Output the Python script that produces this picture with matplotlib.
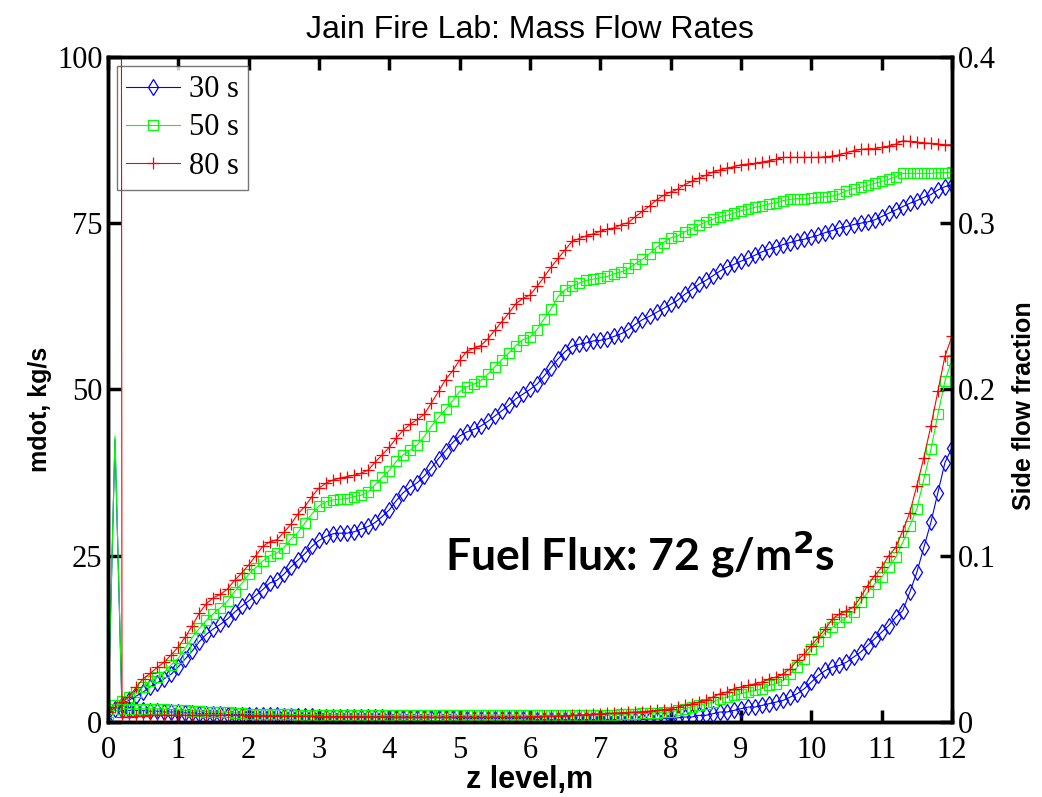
import numpy as np
import matplotlib
matplotlib.use('Agg')
import matplotlib.pyplot as plt

# height levels, m
z = np.round(np.arange(0, 121) * 0.1, 1)

# mass flow, kg/s
mdot_30 = [
    1.5, 2.0, 2.6, 3.3, 3.9, 4.5, 5.3, 5.9, 6.5, 7.2,
    8.3, 9.5, 10.7, 12.1, 13.2, 14.0, 14.7, 15.5, 16.5, 17.4,
    18.2, 19.0, 19.9, 20.9, 21.3, 22.2, 23.3, 24.3, 25.3, 26.4,
    27.3, 27.9, 28.3, 28.4, 28.4, 28.6, 29.0, 29.4, 30.0, 30.9,
    31.9, 33.3, 34.5, 35.3, 36.0, 37.0, 38.2, 39.6, 40.8, 42.0,
    43.0, 43.6, 44.0, 44.5, 45.2, 46.0, 46.8, 47.6, 48.6, 49.3,
    50.0, 50.8, 52.0, 53.3, 54.6, 55.7, 56.5, 56.8, 57.0, 57.3,
    57.4, 57.6, 58.0, 58.4, 59.0, 59.8, 60.5, 61.0, 61.6, 62.2,
    62.8, 63.4, 64.3, 65.0, 65.8, 66.4, 67.1, 67.8, 68.4, 68.8,
    69.3, 69.7, 70.2, 70.7, 71.1, 71.4, 71.8, 72.1, 72.4, 72.6,
    72.9, 73.2, 73.6, 73.9, 74.3, 74.5, 74.8, 75.0, 75.2, 75.5,
    76.0, 76.5, 77.0, 77.5, 78.0, 78.4, 78.9, 79.3, 80.0, 80.5,
    80.8]
mdot_50 = [
    2.0, 2.5, 3.1, 3.7, 4.5, 5.3, 6.1, 6.7, 7.5, 8.6,
    9.6, 11.1, 12.7, 14.1, 15.3, 16.3, 17.2, 18.2, 19.6, 20.8,
    22.2, 23.2, 24.2, 25.0, 25.4, 26.2, 27.5, 28.5, 29.9, 31.3,
    32.5, 33.1, 33.4, 33.5, 33.6, 33.9, 34.1, 34.6, 35.7, 36.8,
    37.8, 39.2, 40.2, 40.9, 41.7, 43.0, 44.5, 45.8, 47.0, 48.3,
    49.7, 50.4, 50.8, 51.3, 52.3, 53.4, 54.5, 55.5, 56.6, 57.5,
    57.9, 59.0, 60.6, 62.1, 64.0, 65.0, 65.6, 66.0, 66.4, 66.6,
    66.8, 67.0, 67.4, 67.7, 68.2, 68.9, 69.6, 70.4, 71.4, 72.1,
    72.8, 73.1, 73.7, 74.2, 74.7, 75.2, 75.6, 76.0, 76.2, 76.5,
    76.9, 77.1, 77.4, 77.6, 77.9, 78.1, 78.4, 78.6, 78.7, 78.7,
    78.8, 78.9, 79.0, 79.1, 79.4, 79.9, 80.2, 80.4, 80.7, 81.0,
    81.3, 81.6, 82.0, 82.5, 82.5, 82.5, 82.5, 82.5, 82.6, 82.6,
    82.7]
mdot_80 = [
    1.5, 2.2, 3.0, 3.8, 5.2, 6.5, 7.3, 8.2, 9.0, 10.1,
    11.3, 12.8, 14.5, 16.4, 17.8, 18.7, 19.2, 20.0, 21.3, 22.4,
    23.6, 25.0, 26.4, 27.1, 27.4, 28.5, 29.7, 31.3, 32.4, 33.9,
    35.2, 35.9, 36.4, 36.7, 36.9, 37.1, 37.4, 37.9, 39.1, 40.2,
    41.3, 42.7, 43.9, 44.8, 45.5, 46.3, 48.0, 49.7, 51.5, 52.8,
    54.4, 55.7, 56.2, 56.6, 57.6, 58.9, 60.2, 61.5, 62.9, 63.7,
    64.2, 65.5, 66.9, 68.4, 69.7, 71.0, 72.3, 72.7, 73.1, 73.4,
    73.8, 74.1, 74.3, 74.8, 75.1, 76.0, 76.8, 77.6, 78.5, 79.2,
    79.7, 80.1, 80.8, 81.3, 81.8, 82.2, 82.7, 83.0, 83.3, 83.5,
    83.8, 83.9, 84.0, 84.2, 84.4, 84.6, 84.9, 84.9, 84.9, 84.9,
    84.9, 84.9, 85.0, 85.1, 85.3, 85.6, 85.9, 86.1, 86.2, 86.2,
    86.4, 86.6, 86.9, 87.4, 87.3, 87.2, 87.1, 87.0, 86.9, 86.8,
    86.8]

# side flow fraction (right axis)
side_30 = [
    0.0, 0.170, 0.007, 0.007, 0.007, 0.007, 0.0065, 0.0065, 0.006, 0.006,
    0.006, 0.0055, 0.0055, 0.005, 0.005, 0.005, 0.005, 0.0045, 0.0045, 0.0045,
    0.004, 0.004, 0.004, 0.004, 0.004, 0.0035, 0.0035, 0.0035, 0.0035, 0.0035,
    0.003, 0.003, 0.003, 0.003, 0.003, 0.003, 0.003, 0.003, 0.003, 0.003,
    0.0025, 0.0025, 0.0025, 0.0025, 0.0025, 0.0025, 0.0025, 0.0025, 0.0025, 0.0025,
    0.002, 0.002, 0.002, 0.002, 0.002, 0.002, 0.002, 0.002, 0.002, 0.002,
    0.0015, 0.0015, 0.0015, 0.0015, 0.0015, 0.0015, 0.0015, 0.0015, 0.0015, 0.0015,
    0.0015, 0.0015, 0.0015, 0.0015, 0.0015, 0.0015, 0.0015, 0.0018, 0.0018, 0.002,
    0.002, 0.0025, 0.003, 0.003, 0.004, 0.004, 0.005, 0.006, 0.006, 0.007,
    0.008, 0.009, 0.009, 0.010, 0.011, 0.012, 0.013, 0.015, 0.017, 0.020,
    0.024, 0.028, 0.031, 0.033, 0.034, 0.036, 0.039, 0.042, 0.046, 0.050,
    0.054, 0.058, 0.063, 0.067, 0.078, 0.090, 0.105, 0.120, 0.138, 0.156,
    0.165]
side_50 = [
    0.0, 0.172, 0.008, 0.008, 0.008, 0.008, 0.008, 0.008, 0.0078, 0.0075,
    0.0072, 0.007, 0.0068, 0.0065, 0.0063, 0.006, 0.006, 0.0058, 0.0055, 0.0053,
    0.005, 0.005, 0.005, 0.0048, 0.0048, 0.0047, 0.0046, 0.0045, 0.0045, 0.0044,
    0.0043, 0.0043, 0.0042, 0.0042, 0.0042, 0.0041, 0.0041, 0.0041, 0.004, 0.004,
    0.004, 0.004, 0.004, 0.004, 0.004, 0.004, 0.004, 0.004, 0.004, 0.004,
    0.004, 0.004, 0.004, 0.004, 0.004, 0.004, 0.004, 0.004, 0.004, 0.004,
    0.004, 0.004, 0.004, 0.004, 0.004, 0.004, 0.004, 0.004, 0.004, 0.0042,
    0.0043, 0.0044, 0.0045, 0.0046, 0.0048, 0.005, 0.0052, 0.0054, 0.0056, 0.0058,
    0.006, 0.007, 0.008, 0.009, 0.010, 0.011, 0.012, 0.014, 0.015, 0.016,
    0.017, 0.018, 0.019, 0.020, 0.022, 0.023, 0.025, 0.029, 0.033, 0.038,
    0.044, 0.049, 0.054, 0.057, 0.060, 0.063, 0.066, 0.072, 0.078, 0.083,
    0.087, 0.093, 0.099, 0.108, 0.118, 0.128, 0.146, 0.164, 0.185, 0.205,
    0.218]
side_80 = [
    0.0, 5.0, 0.003, 0.003, 0.0035, 0.0035, 0.004, 0.004, 0.004, 0.004,
    0.004, 0.004, 0.004, 0.004, 0.004, 0.004, 0.004, 0.004, 0.004, 0.004,
    0.0038, 0.0038, 0.0036, 0.0036, 0.0035, 0.0035, 0.0035, 0.0035, 0.0034, 0.0034,
    0.0033, 0.0033, 0.0033, 0.0033, 0.0032, 0.0032, 0.0032, 0.0032, 0.0031, 0.0031,
    0.003, 0.003, 0.003, 0.003, 0.003, 0.003, 0.003, 0.003, 0.003, 0.003,
    0.003, 0.003, 0.003, 0.003, 0.003, 0.003, 0.003, 0.003, 0.003, 0.003,
    0.0032, 0.0033, 0.0034, 0.0035, 0.0036, 0.0038, 0.004, 0.0042, 0.0045, 0.0048,
    0.005, 0.0052, 0.0054, 0.0056, 0.0058, 0.006, 0.0063, 0.0066, 0.007, 0.0075,
    0.008, 0.009, 0.010, 0.011, 0.012, 0.013, 0.015, 0.017, 0.018, 0.020,
    0.021, 0.022, 0.023, 0.024, 0.026, 0.027, 0.029, 0.032, 0.037, 0.041,
    0.046, 0.051, 0.056, 0.062, 0.065, 0.067, 0.069, 0.075, 0.082, 0.088,
    0.093, 0.100, 0.105, 0.115, 0.126, 0.142, 0.159, 0.178, 0.199, 0.220,
    0.232]

labels = ['30 s', '50 s', '80 s']
colors = ['#0000ff', '#00ff00', '#ff0000']
markers = ['d', 's', '+']
msizes = [8, 7, 9]

serif = 'Liberation Serif'
sans = 'Liberation Sans'

fig = plt.figure(figsize=(10.42, 7.97), dpi=100)
ax = fig.add_axes([0.1036, 0.0941, 0.81, 0.8344])
ax2 = ax.twinx()

for m, c, mk, ms, lab in zip([mdot_30, mdot_50, mdot_80], colors, markers, msizes, labels):
    ax.plot(z, m, color=c, marker=mk, markersize=ms, markerfacecolor='none',
            markeredgecolor=c, markeredgewidth=0.9, linewidth=0.8, label=lab)

# no marker on the near-wall spike point
keep = [i for i in range(len(z)) if i != 1]
for s, c, mk, ms in zip([side_30, side_50, side_80], colors, markers, msizes):
    ax2.plot(z, s, color=c, marker=mk, markersize=ms, markerfacecolor='none',
             markeredgecolor=c, markeredgewidth=0.9, linewidth=0.8, markevery=keep)

ax.set_xlim(0, 12)
ax.set_ylim(0, 100)
ax2.set_ylim(0, 0.4)
ax.set_xticks(range(0, 13))
ax.set_yticks([0, 25, 50, 75, 100])
ax2.set_yticks([0, 0.1, 0.2, 0.3, 0.4])
ax2.set_yticklabels(['0', '0.1', '0.2', '0.3', '0.4'])

for a in (ax, ax2):
    for sp in a.spines.values():
        sp.set_linewidth(2.5)
    a.tick_params(direction='in', length=9, width=2.5, labelsize=22, pad=4)
    for t in a.get_xticklabels() + a.get_yticklabels():
        t.set_fontfamily(serif)
ax.tick_params(top=True, right=False)
ax.tick_params(axis='x', pad=10)
ax2.tick_params(right=True, left=False)

ax.set_xlabel('z level,m', fontsize=22, fontweight='bold', family=sans)
ax.xaxis.set_label_coords(0.5, -0.065)
ax.set_ylabel('mdot, kg/s', fontsize=18, fontweight='bold', family=sans)
ax.yaxis.set_label_coords(-0.066, 0.47)
ax2.set_ylabel('Side flow fraction', fontsize=18, fontweight='bold', family=sans)
ax2.yaxis.set_label_coords(1.071, 0.475)
ax.set_title('Jain Fire Lab: Mass Flow Rates', fontsize=23, family=sans, pad=14)

ax.text(0.63, 0.253, 'Fuel Flux: 72 g/m$^\\mathbf{2}$s', transform=ax.transAxes,
        ha='center', va='center', fontsize=32, fontweight='bold', family='Lato')

leg = ax.legend(loc='upper left', prop={'family': serif, 'size': 22},
                frameon=True, fancybox=False, edgecolor='#555555',
                borderaxespad=0.3, handlelength=1.75, handletextpad=0.3,
                labelspacing=0.3, borderpad=0.3)
leg.get_frame().set_linewidth(1.0)

fig.savefig('out.png', dpi=100)
